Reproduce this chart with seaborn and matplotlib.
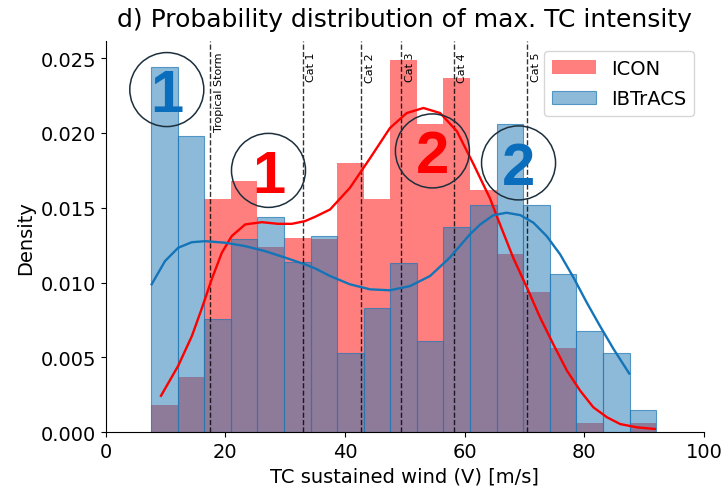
import numpy as np
import pandas as pd
import matplotlib
matplotlib.use("Agg")
import matplotlib.pyplot as plt
import seaborn as sns
from matplotlib.colors import to_rgba

# ---- data ----
bin_edges = list(np.linspace(7.56, 92.0, 20))
bin_centers = [(a + b) / 2 for a, b in zip(bin_edges[:-1], bin_edges[1:])]

icon_density = [0.0018, 0.0037, 0.0156, 0.0168, 0.0124, 0.0130, 0.0129, 0.0180, 0.0156,
                0.0249, 0.0206, 0.0237, 0.0162, 0.0119, 0.0094, 0.0056, 0.0006, 0.0, 0.0006]
ibtracs_density = [0.0244, 0.0198, 0.0076, 0.0129, 0.0144, 0.0114, 0.0131, 0.0053, 0.0083,
                   0.0113, 0.0061, 0.0137, 0.0152, 0.0206, 0.0152, 0.0106, 0.0068, 0.0053, 0.0015]

icon_kde_x = [9.23, 12.1, 14.4, 16.0, 17.7, 19.4, 21.05, 23.3, 26.1, 28.8, 31.1, 33.3, 35.0,
              37.5, 40.8, 44.2, 47.5, 50.3, 53.1, 55.9, 58.7, 61.5, 64.2, 65.9, 68.1, 70.4,
              72.6, 74.8, 77.1, 79.3, 81.5, 83.8, 86.0, 88.8, 91.8]
icon_kde_y = [0.00244, 0.00444, 0.00644, 0.00822, 0.01022, 0.0120, 0.01311, 0.01389, 0.01404,
              0.01393, 0.01393, 0.01411, 0.0144, 0.01489, 0.01633, 0.01833, 0.02033, 0.02133,
              0.02167, 0.02133, 0.02011, 0.01789, 0.01565, 0.01389, 0.01167, 0.00967, 0.00767,
              0.00589, 0.00411, 0.00278, 0.00167, 0.0010, 0.00055, 0.00033, 0.00022]

ibtracs_kde_x = [7.67, 9.9, 12.1, 14.36, 16.6, 19.9, 23.3, 26.6, 30.0, 33.3, 35.0, 37.5, 40.8,
                 44.2, 47.5, 50.85, 54.2, 57.5, 60.85, 62.6, 64.8, 67.0, 69.3, 71.5, 73.7,
                 75.95, 78.2, 80.4, 82.6, 84.9, 87.5]
ibtracs_kde_y = [0.00989, 0.01144, 0.01233, 0.0127, 0.01277, 0.01267, 0.01244, 0.01211, 0.01167,
                 0.01122, 0.01095, 0.01044, 0.00989, 0.00955, 0.00949, 0.00977, 0.01044, 0.01167,
                 0.01322, 0.01389, 0.01451, 0.01467, 0.01451, 0.0140, 0.01311, 0.01189, 0.01033,
                 0.00867, 0.00711, 0.00555, 0.00393]

cat_names = ["Tropical Storm", "Cat 1", "Cat 2", "Cat 3", "Cat 4", "Cat 5"]
cat_thresholds = [17.49, 32.92, 42.70, 49.39, 58.13, 70.48]

mark_labels = ["1", "1", "2", "2"]
mark_x = [10.2, 27.2, 54.6, 69.0]
mark_y = [0.0229, 0.0175, 0.0188, 0.0180]
mark_colors = ["#0a6ebd", "red", "red", "#0a6ebd"]

hist_icon = pd.DataFrame({"wind": bin_centers, "density": icon_density})
hist_ibt = pd.DataFrame({"wind": bin_centers, "density": ibtracs_density})

# ---- plot ----
fig = plt.figure(figsize=(7.26, 4.89), dpi=100)
ax = fig.add_axes([0.1457, 0.1139, 0.8240, 0.8002])

sns.histplot(data=hist_icon, x="wind", weights="density", bins=bin_edges, stat="count",
             color="red", alpha=0.5, linewidth=0, label="ICON", ax=ax)
sns.histplot(data=hist_ibt, x="wind", weights="density", bins=bin_edges, stat="count",
             color="#1f77b4", alpha=0.5, edgecolor=to_rgba("#1f77b4", 0.7), linewidth=0.8,
             label="IBTrACS", ax=ax)

sns.lineplot(x=icon_kde_x, y=icon_kde_y, color="red", linewidth=1.7, ax=ax, zorder=4)
sns.lineplot(x=ibtracs_kde_x, y=ibtracs_kde_y, color="#1374b8", linewidth=1.7, ax=ax, zorder=4)

ax.set_xlim(0, 100)
ax.set_ylim(0, 0.0249 * 1.05)

for name, thr in zip(cat_names, cat_thresholds):
    ax.axvline(thr, color="black", linestyle="--", linewidth=1.0, alpha=0.8, zorder=3)
    ax.text(thr + 0.6, 0.972, name, rotation=90, ha="left", va="top", fontsize=8,
            transform=ax.get_xaxis_transform(), zorder=5)

ax.scatter(mark_x, mark_y, s=2840, facecolors="none", edgecolors="#1c2f3c",
           linewidths=1.1, zorder=6)
for lab, mx, my, mc in zip(mark_labels, mark_x, mark_y, mark_colors):
    ax.text(mx, my, lab, color=mc, fontsize=43, fontweight="bold",
            family=["Liberation Sans", "DejaVu Sans"], ha="center", va="center_baseline",
            zorder=7)

ax.set_title("d) Probability distribution of max. TC intensity", fontsize=18, pad=11)
ax.set_xlabel("TC sustained wind (V) [m/s]", fontsize=14)
ax.set_ylabel("Density", fontsize=14)
ax.tick_params(labelsize=14)
ax.legend(fontsize=14, loc="upper right", handlelength=2.25, labelspacing=0.6)
sns.despine(ax=ax)

fig.savefig("out.png", dpi=100)
